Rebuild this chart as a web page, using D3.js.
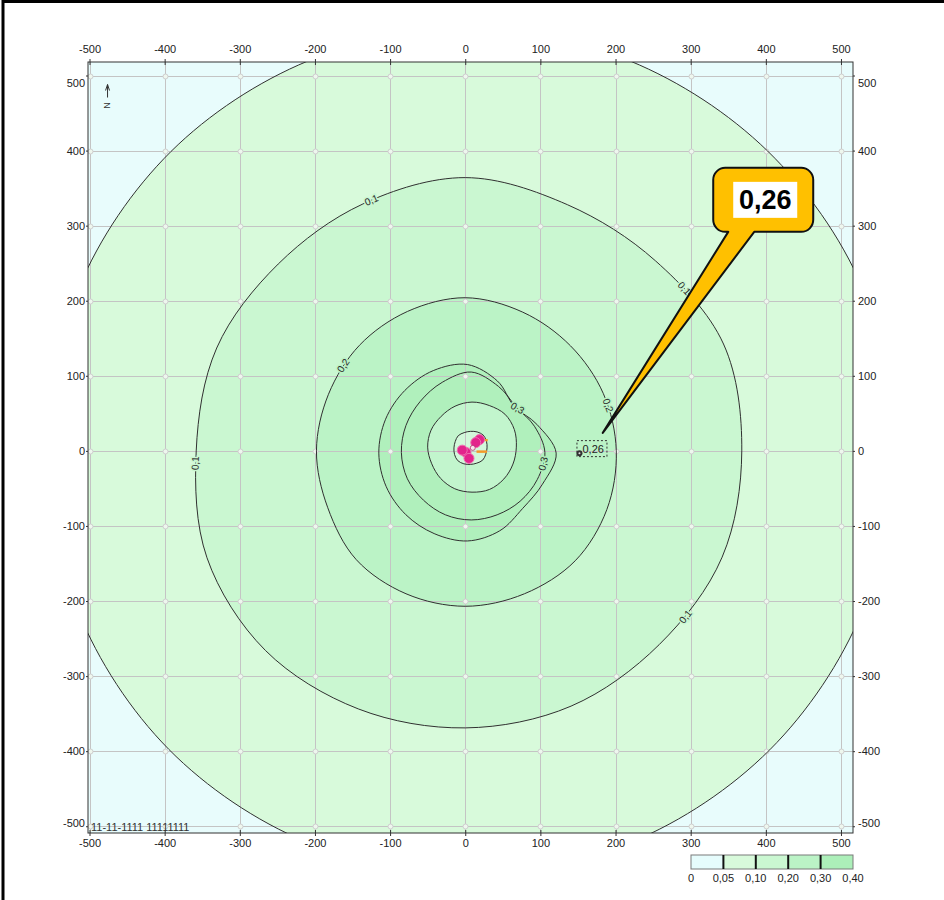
<!DOCTYPE html>
<html>
<head>
<meta charset="utf-8">
<script src="https://cdn.jsdelivr.net/npm/d3@7"></script>
<style>
  body { margin: 0; background: #fff; }
  svg { display: block; }
  text { font-family: Arial, "Liberation Sans", sans-serif; }
</style>
</head>
<body>
<script>
// ---- data -------------------------------------------------------------
const xTicks = [-500, -400, -300, -200, -100, 0, 100, 200, 300, 400, 500];
const yTicks = [-500, -400, -300, -200, -100, 0, 100, 200, 300, 400, 500];
const legendBreaks = ["0", "0,05", "0,10", "0,20", "0,30", "0,40"];

// isoline rings: radius (m) sampled every 22.5° counter-clockwise from east
const ringAngles = d3.range(16).map(i => i * 22.5);
const ring005 = { cx: 5, cy: 2, radii: [566, 566, 562, 560, 561, 560, 561, 562, 561, 563, 565, 566, 566, 566, 566, 566] };
const ring01  = { cx: 0, cy: 0, radii: [368, 372, 358, 355, 364, 356, 352, 358, 358, 372, 376, 372, 369, 368, 365, 370] };
const ring02  = { cx: 0, cy: 0, radii: [201, 199, 198, 200, 204, 201, 199, 197, 198, 198, 205, 206, 207, 206, 207, 204] };
const ring03a = { cx: 3, cy: -3, radii: [118, 100, 88, 104, 118, 119, 118, 118, 118, 117, 116, 116, 117, 112, 104, 108] };
const ring03b = { cx: 8, cy: -2, radii: [98, 91, 85, 95, 107, 101, 96, 94, 93, 92, 90, 90, 90, 90, 92, 95] };
const ring05  = { cx: 9, cy: 5, radii: [59, 61, 62, 60, 60, 59, 58, 59, 59, 58, 59, 60, 60, 61, 60, 59] };
const ring10  = { cx: 7, cy: 4, radii: [22, 23, 24, 23, 22, 22, 23, 22, 22, 23, 24, 23, 22, 22, 23, 22] };
const rings = [ring005, ring01, ring02, ring03a, ring03b, ring05, ring10];

// isoline labels: ring index, angle (deg), text
const isoLabels = [
  { ring: 1, angle: 110.5, text: "0,1" },
  { ring: 1, angle: 36.6,  text: "0,1" },
  { ring: 1, angle: 182.6, text: "0,1" },
  { ring: 1, angle: -37,   text: "0,1" },
  { ring: 2, angle: 145,   text: "0,2" },
  { ring: 2, angle: 17.7,  text: "0,2" },
  { ring: 3, angle: 42,    text: "0,3" },
  { ring: 4, angle: -9,    text: "0,3" }
];

// emission sources near the origin
const sources = [
  { x: 19, y: 15 }, { x: 14, y: 11 }, { x: 1, y: -2 }, { x: 5, y: -10 }, { x: -4, y: 1 }
];
const sourceStubs = [
  { x1: 17, y1: 16, x2: 30, y2: 14 }, { x1: 15, y1: -1, x2: 29, y2: -1 }
];

// receptor point and its value
const receptor = { x: 152, y: -3, value: "0,26" };
const callout = { x: 330, y: 377, tipX: 183, tipY: 24, text: "0,26" };

const stampText = "11-11-1111 11111111";

// ---- styles -------------------------------------------------------------
const bandFill = ["#e8fcfc", "#d8fadb", "#caf7d1", "#bbf3c6", "#b0f0bc", "#b0f0bc", "#c2f5cd", "#d2f8da"];
const legendFill = ["#e6fcfc", "#d8fadb", "#caf7d1", "#bbf3c6", "#acefb9"];
const inkColor = "#2a2a2a";

// ---- layout -------------------------------------------------------------
const W = 944, H = 900;
const x = d3.scaleLinear().domain([-502, 516]).range([88, 853]);
const y = d3.scaleLinear().domain([-509, 518]).range([833, 62]);
const x0 = x(-502), x1 = x(516), y0 = y(518), y1 = y(-509);

const svg = d3.select("body").append("svg").attr("width", W).attr("height", H);

// page border (left and top)
svg.append("path")
  .attr("d", `M3,${H} V1.5 H${W}`)
  .attr("fill", "none").attr("stroke", "#000").attr("stroke-width", 3);

svg.append("defs").append("clipPath").attr("id", "plotclip")
  .append("rect").attr("x", x0).attr("y", y0).attr("width", x1 - x0).attr("height", y1 - y0);

const plot = svg.append("g").attr("clip-path", "url(#plotclip)");

plot.append("rect").attr("x", x0).attr("y", y0).attr("width", x1 - x0).attr("height", y1 - y0)
  .attr("fill", bandFill[0]);

const ringPoints = r => r.radii.map((d, i) => {
  const a = ringAngles[i] * Math.PI / 180;
  return [r.cx + d * Math.cos(a), r.cy + d * Math.sin(a)];
});
const ringAt = (r, deg) => {
  const t = ((deg % 360) + 360) % 360 / 22.5;
  const i = Math.floor(t) % 16, j = (i + 1) % 16, f = t - Math.floor(t);
  const rad = r.radii[i] * (1 - f) + r.radii[j] * f;
  const a = deg * Math.PI / 180;
  return [r.cx + rad * Math.cos(a), r.cy + rad * Math.sin(a)];
};
const isoLine = d3.line().x(d => x(d[0])).y(d => y(d[1])).curve(d3.curveCardinalClosed.tension(0));

// filled bands
plot.selectAll("path.band").data(rings).join("path")
  .attr("class", "band")
  .attr("d", r => isoLine(ringPoints(r)))
  .attr("fill", (r, i) => bandFill[i + 1]);

// grid
const grid = plot.append("g").attr("stroke", "#c4c4c4").attr("stroke-width", 1);
grid.selectAll("line.v").data(xTicks).join("line").attr("class", "v")
  .attr("x1", d => Math.round(x(d)) + 0.5).attr("x2", d => Math.round(x(d)) + 0.5)
  .attr("y1", y0).attr("y2", y1);
grid.selectAll("line.h").data(yTicks).join("line").attr("class", "h")
  .attr("y1", d => Math.round(y(d)) + 0.5).attr("y2", d => Math.round(y(d)) + 0.5)
  .attr("x1", x0).attr("x2", x1);
const nodes = xTicks.flatMap(a => yTicks.map(b => [a, b]));
grid.selectAll("circle").data(nodes).join("circle")
  .attr("cx", d => Math.round(x(d[0])) + 0.5).attr("cy", d => Math.round(y(d[1])) + 0.5)
  .attr("r", 2.5).attr("fill", "#eef7ee").attr("stroke", "#cfcfcf");

// isolines
plot.selectAll("path.iso").data(rings).join("path")
  .attr("class", "iso")
  .attr("d", r => isoLine(ringPoints(r)))
  .attr("fill", "none").attr("stroke", "#303030").attr("stroke-width", 1);

// isoline labels
plot.selectAll("text.iso").data(isoLabels).join("text")
  .attr("class", "iso")
  .each(function (d) {
    const r = rings[d.ring];
    const p = ringAt(r, d.angle);
    const pa = ringAt(r, d.angle - 3), pb = ringAt(r, d.angle + 3);
    let rot = Math.atan2(y(pb[1]) - y(pa[1]), x(pb[0]) - x(pa[0])) * 180 / Math.PI;
    if (rot > 90) rot -= 180;
    if (rot <= -90) rot += 180;
    d3.select(this)
      .attr("transform", `translate(${x(p[0])},${y(p[1])}) rotate(${rot})`)
      .attr("fill", inkColor)
      .attr("stroke", bandFill[d.ring + 1]).attr("stroke-width", 3)
      .attr("paint-order", "stroke")
      .attr("font-size", 10)
      .attr("text-anchor", "middle").attr("dy", "0.35em")
      .text(d.text);
  });

// sources
const src = plot.append("g");
src.selectAll("line").data(sourceStubs).join("line")
  .attr("x1", d => x(d.x1)).attr("y1", d => y(d.y1))
  .attr("x2", d => x(d.x2)).attr("y2", d => y(d.y2))
  .attr("stroke", "#f39a2a").attr("stroke-width", 2.5);
src.selectAll("circle.s").data(sources).join("circle").attr("class", "s")
  .attr("cx", d => x(d.x)).attr("cy", d => y(d.y))
  .attr("r", 5).attr("fill", "#e3238c").attr("stroke", "#f06fb0").attr("stroke-width", 1);
src.append("circle").attr("cx", x(10)).attr("cy", y(4)).attr("r", 2.5)
  .attr("fill", "#fbe3ef").attr("stroke", "#b0306e").attr("stroke-width", 0.8);

// receptor point with its value
const rp = plot.append("g").attr("transform", `translate(${x(receptor.x)},${y(receptor.y)})`);
rp.append("circle").attr("r", 3).attr("fill", "#333");
rp.append("circle").attr("r", 1).attr("fill", "#ddd");
rp.append("rect").attr("x", -2.5).attr("y", -12.5).attr("width", 30).attr("height", 16)
  .attr("fill", "none").attr("stroke", "#333").attr("stroke-dasharray", "2,2");
rp.append("text").attr("x", 3).attr("y", 0).attr("font-size", 11).attr("fill", "#222")
  .text(receptor.value);

// north arrow
const na = svg.append("g").attr("transform", `translate(${x(-476)},${y(500)})`)
  .attr("stroke", "#333").attr("fill", "none").attr("stroke-width", 1);
na.append("line").attr("x1", 0).attr("y1", 9).attr("x2", 0).attr("y2", 22);
na.append("path").attr("d", "M-2,15 L0,9 L2,15");
na.append("text").attr("transform", "translate(0,30) rotate(90)")
  .attr("stroke", "none").attr("fill", "#333").attr("font-size", 9)
  .attr("text-anchor", "middle").attr("dy", "0.35em").text("N");

// stamp
svg.append("text").attr("x", x0 + 3).attr("y", y1 - 2).attr("font-size", 11).attr("fill", "#333")
  .text(stampText);

// plot frame
svg.append("rect").attr("x", x0).attr("y", y0).attr("width", x1 - x0).attr("height", y1 - y0)
  .attr("fill", "none").attr("stroke", "#333").attr("stroke-width", 1);

// axes (plain hyphen for negative values)
const fmt = d => String(d);
function styleAxis(g) {
  g.select(".domain").remove();
  g.selectAll(".tick line").attr("stroke", "#333");
  g.selectAll(".tick text").attr("fill", "#222").attr("font-size", 11)
    .attr("font-family", "Arial, 'Liberation Sans', sans-serif");
}
svg.append("g").attr("transform", `translate(0,${y0})`)
  .call(d3.axisTop(x).tickValues(xTicks).tickFormat(fmt).tickSize(3).tickPadding(6))
  .call(styleAxis)
  .call(g => g.selectAll(".tick line").attr("y1", 3));
svg.append("g").attr("transform", `translate(0,${y1})`)
  .call(d3.axisBottom(x).tickValues(xTicks).tickFormat(fmt).tickSize(3).tickPadding(3))
  .call(styleAxis)
  .call(g => g.selectAll(".tick line").attr("y1", -3));
const edgeShift = d => d === 500 ? 7 : (d === -500 ? -3 : 0);
svg.append("g").attr("transform", `translate(${x0},0)`)
  .call(d3.axisLeft(y).tickValues(yTicks).tickFormat(fmt).tickSize(2).tickPadding(1))
  .call(styleAxis)
  .call(g => g.selectAll(".tick text").attr("y", d => edgeShift(d)));
svg.append("g").attr("transform", `translate(${x1},0)`)
  .call(d3.axisRight(y).tickValues(yTicks).tickFormat(fmt).tickSize(2).tickPadding(3))
  .call(styleAxis)
  .call(g => g.selectAll(".tick text").attr("y", d => edgeShift(d)));

// legend
const lx = d3.scaleLinear().domain([0, legendFill.length]).range([691, 853]);
const lg = svg.append("g");
lg.selectAll("rect").data(legendFill).join("rect")
  .attr("x", (d, i) => lx(i)).attr("y", 855).attr("width", (d, i) => lx(i + 1) - lx(i)).attr("height", 14)
  .attr("fill", d => d);
lg.append("rect").attr("x", lx(0)).attr("y", 855).attr("width", lx(5) - lx(0)).attr("height", 14)
  .attr("fill", "none").attr("stroke", "#7a7a7a");
lg.selectAll("line").data(d3.range(1, legendFill.length)).join("line")
  .attr("x1", d => lx(d)).attr("x2", d => lx(d)).attr("y1", 855).attr("y2", 869)
  .attr("stroke", "#111").attr("stroke-width", 2);
lg.selectAll("text").data(legendBreaks).join("text")
  .attr("x", (d, i) => lx(i)).attr("y", 882)
  .attr("text-anchor", "middle").attr("font-size", 11).attr("fill", "#222")
  .text(d => d);

// value callout
const bx = x(callout.x), by = y(callout.y), bw = 100, bh = 64, br = 12;
const tx = x(callout.tipX), ty = y(callout.tipY);
svg.append("path")
  .attr("d", `M${bx + br},${by} H${bx + bw - br} A${br},${br} 0 0 1 ${bx + bw},${by + br}
    V${by + bh - br} A${br},${br} 0 0 1 ${bx + bw - br},${by + bh} H${bx + 41}
    L${tx},${ty} L${bx + 15},${by + bh} H${bx + br} A${br},${br} 0 0 1 ${bx},${by + bh - br}
    V${by + br} A${br},${br} 0 0 1 ${bx + br},${by} Z`)
  .attr("fill", "#ffc000").attr("stroke", "#111").attr("stroke-width", 2).attr("stroke-linejoin", "round");
svg.append("rect").attr("x", bx + 20).attr("y", by + 14).attr("width", 64).attr("height", 36).attr("fill", "#fff");
svg.append("text").attr("x", bx + 52).attr("y", by + 41)
  .attr("text-anchor", "middle").attr("font-size", 27).attr("font-weight", "bold")
  .attr("font-family", "Lato, 'Open Sans', sans-serif").attr("fill", "#000")
  .text(callout.text);
</script>
</body>
</html>
